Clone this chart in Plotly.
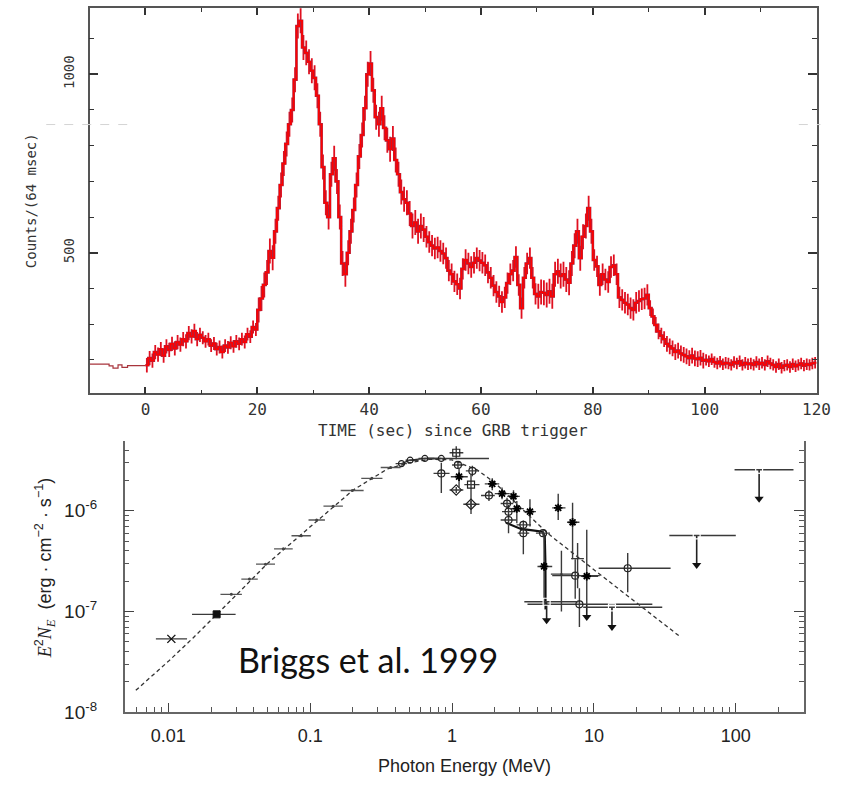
import plotly.graph_objects as go

# ================= TOP PANEL: GRB light curve =================
pre_edges = [-10, -6.5, -5.8, -4.9, -4.2, -3.2, 0]
pre_counts = [188, 183, 177, 186, 179, 184]

lc_dt = 0.5  # s per bin (bins start at t = 0)
lc_counts = [
    # 0 - 10 s
    185, 205, 198, 222, 215, 230, 212, 238, 228, 245, 232, 250, 243, 258, 252, 275, 266, 281, 258, 270,
    # 10 - 20 s
    262, 252, 258, 240, 246, 230, 236, 222, 240, 235, 248, 238, 252, 245, 258, 250, 272, 265, 292, 285,
    # 20 - 30 s
    340, 372, 410, 445, 505, 486, 560, 625, 690, 750, 805, 860, 900, 985, 1135, 1150, 1075, 1060, 1035, 1010,
    # 30 - 40 s
    990, 940, 860, 740, 640, 600, 720, 765, 700, 600, 470, 440, 500, 560, 620, 690, 770, 830, 905, 1000,
    # 40 - 50 s
    1030, 955, 880, 860, 905, 850, 815, 790, 820, 760, 720, 670, 650, 640, 610, 575, 585, 560, 575, 565,
    # 50 - 60 s
    545, 530, 520, 512, 515, 505, 498, 485, 450, 440, 420, 412, 400, 455, 480, 470, 460, 472, 485, 478,
    # 60 - 70 s
    472, 465, 445, 430, 408, 390, 378, 362, 375, 415, 440, 450, 488, 410, 345, 430, 470, 485, 430, 385,
    # 70 - 80 s
    378, 390, 388, 382, 392, 378, 440, 448, 435, 440, 425, 416, 470, 520, 560, 485, 545, 575, 625, 560,
    # 80 - 90 s
    480, 462, 410, 440, 425, 418, 460, 465, 440, 375, 368, 360, 355, 345, 340, 360, 365, 370, 372, 382,
    # 90 - 100 s
    345, 322, 298, 280, 268, 258, 245, 238, 232, 222, 226, 218, 214, 210, 205, 212, 204, 202, 206, 198,
    # 100 - 110 s
    200, 196, 202, 194, 190, 195, 188, 192, 190, 186, 194, 190, 196, 186, 192, 188, 190, 186, 194, 188,
    # 110 - 120 s
    192, 186, 196, 190, 186, 180, 188, 178, 184, 186, 180, 188, 182, 186, 190, 184, 188, 186, 190, 192,
]
# half-width of the noisy band around the curve, per 10-s segment
lc_band_half = [20, 18, 35, 35, 35, 30, 30, 35, 30, 22, 16, 16]

# ================= BOTTOM PANEL: spectrum =================
rise_x = [0.0278, 0.0373, 0.0484, 0.0647, 0.0865, 0.111, 0.145, 0.198, 0.272, 0.369]
rise_xlo = [0.0233, 0.0327, 0.0415, 0.0556, 0.0738, 0.0973, 0.124, 0.164, 0.229, 0.314]
rise_xhi = [0.0330, 0.0427, 0.0565, 0.0753, 0.101, 0.127, 0.170, 0.238, 0.323, 0.434]
rise_y = [1.48e-7, 2.1e-7, 2.95e-7, 4.19e-7, 5.65e-7, 8.1e-7, 1.11e-6, 1.59e-6, 2.1e-6, 2.69e-6]

xm_x, xm_y, xm_xlo, xm_xhi = [0.0105], [5.35e-8], [0.00817], [0.01355]
fs_x, fs_y, fs_xlo, fs_xhi = [0.0219], [9.37e-8], [0.01469], [0.0298]

peak_x = [0.44, 0.506, 0.643, 0.84]
peak_y = [2.94e-6, 3.18e-6, 3.31e-6, 3.31e-6]
peak_xlo = [0.40, 0.47, 0.58, 0.68]
peak_xhi = [0.48, 0.58, 0.75, 1.82]

oc_x = [0.84, 1.1, 1.39, 1.82, 2.44, 2.5, 2.5, 3.18, 3.18, 4.38, 7.38, 17.3, 7.9]
oc_y = [2.35e-6, 2.85e-6, 2.49e-6, 1.42e-6, 1.18e-6, 9.8e-7, 8.1e-7, 7.25e-7, 6.0e-7, 6.0e-7, 2.27e-7, 2.69e-7, 1.18e-7]
oc_xlo = [0.74, 1.0, 1.25, 1.6, 2.2, 2.25, 2.2, 2.85, 2.9, 3.9, 5.08, 10.8, 3.4]
oc_xhi = [0.96, 1.2, 1.55, 2.0, 2.7, 2.8, 2.85, 3.6, 3.5, 4.9, 11.0, 34.7, 25.8]
oc_ylo = [1.5e-6, 2.6e-6, 2.2e-6, 1.25e-6, 1.05e-6, 8.5e-7, 6.0e-7, 6.5e-7, 3.7e-7, 5.5e-7, 1.34e-7, 1.55e-7, 7.0e-8]
oc_yhi = [3.0e-6, 3.1e-6, 2.8e-6, 1.6e-6, 1.35e-6, 1.15e-6, 9.0e-7, 8.0e-7, 6.7e-7, 6.5e-7, 3.3e-7, 3.8e-7, 1.7e-7]

sq_x = [1.07, 1.36]
sq_y = [3.77e-6, 1.82e-6]
sq_xlo = [0.96, 1.22]
sq_xhi = [1.2, 1.56]
sq_ylo = [3.24e-6, 9.3e-7]
sq_yhi = [4.36e-6, 2.32e-6]

dm_x = [1.07, 1.36]
dm_y = [1.61e-6, 1.16e-6]
dm_xlo = [0.96, 1.2]
dm_xhi = [1.2, 1.56]
dm_ylo = [1.5e-6, 1.08e-6]
dm_yhi = [1.72e-6, 1.25e-6]

st_x = [1.12, 1.92, 2.25, 2.71, 2.86, 3.54, 4.45, 5.6, 7.07, 8.9]
st_y = [2.18e-6, 1.85e-6, 1.48e-6, 1.39e-6, 1.05e-6, 9.8e-7, 2.8e-7, 1.07e-6, 7.69e-7, 2.24e-7]
st_xlo = [0.98, 1.7, 2.0, 2.45, 2.55, 3.2, 4.0, 5.08, 6.46, 8.07]
st_xhi = [1.29, 2.15, 2.55, 3.0, 3.2, 3.9, 5.08, 6.3, 7.9, 10.7]
st_ylo = [1.71e-6, 1.6e-6, 1.3e-6, 1.2e-6, 7.5e-7, 7.0e-7, 1.2e-7, 8.1e-7, 3.3e-7, 1.16e-7]
st_yhi = [2.68e-6, 2.1e-6, 1.7e-6, 1.6e-6, 1.25e-6, 1.3e-6, 6.0e-7, 1.48e-6, 1.2e-6, 6.5e-7]

pl_x = [5.9, 7.67]
pl_y = [2.35e-7, 3.35e-7]
pl_xlo = [4.97, 6.9]
pl_xhi = [7.07, 8.5]
pl_ylo = [1.0e-7, 1.7e-7]
pl_yhi = [4.0e-7, 4.8e-7]

ul_x = [4.64, 13.4, 53.0, 146.0]
ul_y = [1.25e-7, 1.10e-7, 5.7e-7, 2.55e-6]
ul_xlo = [3.23, 8.4, 34.0, 98.0]
ul_xhi = [7.78, 30.3, 100.0, 255.0]
ul_sym = ["square-open", "square-open", "circle-open", "circle-open"]

arrow_x = [4.64, 8.9, 13.4, 53.0, 146.0]
arrow_top = [1.25e-7, 1.16e-7, 1.10e-7, 5.7e-7, 2.55e-6]
arrow_tip = [8.2e-8, 8.8e-8, 7.0e-8, 2.9e-7, 1.32e-6]

dash_x = [0.0059, 0.01, 0.015, 0.022, 0.03, 0.05, 0.1, 0.2, 0.35, 0.5, 0.7, 1.0, 1.5, 2.0, 3.0, 4.7, 10.0, 20.0, 40.0]
dash_y = [1.65e-8, 3.2e-8, 5.5e-8, 9.3e-8, 1.45e-7, 3.0e-7, 7.0e-7, 1.6e-6, 2.6e-6, 3.0e-6, 3.25e-6, 3.2e-6, 2.55e-6, 1.9e-6, 1.1e-6, 6.0e-7, 2.6e-7, 1.22e-7, 5.7e-8]

solid_x = [2.4, 3.06, 3.7, 4.34, 4.5, 4.55, 4.56]
solid_y = [7.6e-7, 6.6e-7, 6.4e-7, 6.2e-7, 5.6e-7, 3.0e-7, 1.05e-7]

x2_ticks = [0.01, 0.1, 1, 10, 100]
x2_ticktext = ["0.01", "0.1", "1", "10", "100"]
y2_ticks = [1e-8, 1e-7, 1e-6]
y2_ticktext = ["10<sup>-8</sup>", "10<sup>-7</sup>", "10<sup>-6</sup>"]

# ---------------------------------------------------------------
fig = go.Figure()

# light curve (step histogram)
lc_t = [i * lc_dt for i in range(len(lc_counts))]
lc_edges = lc_t + [len(lc_counts) * lc_dt]
lc_vals = lc_counts + [lc_counts[-1]]
pre_vals = pre_counts + [pre_counts[-1]]
lc_spread = [lc_band_half[min(int(t // 10), len(lc_band_half) - 1)] for t in lc_t]

fig.add_trace(go.Scatter(x=pre_edges, y=pre_vals, mode="lines", line_shape="hv",
                         line=dict(color="#a8343c", width=1.2), xaxis="x", yaxis="y",
                         showlegend=False, hoverinfo="skip"))
# noisy band (vertical spread of each bin)
fig.add_trace(go.Scatter(x=[t + lc_dt / 2 for t in lc_t], y=lc_counts, mode="markers",
                         marker=dict(size=1, color="rgba(0,0,0,0)"),
                         error_y=dict(type="data", array=lc_spread, width=0,
                                      thickness=1.8, color="#e01020"),
                         xaxis="x", yaxis="y", showlegend=False, hoverinfo="skip"))
fig.add_trace(go.Scatter(x=lc_edges, y=lc_vals, mode="lines", line_shape="hv",
                         line=dict(color="#9a2a48", width=2.6), xaxis="x", yaxis="y",
                         showlegend=False, hoverinfo="skip"))
fig.add_trace(go.Scatter(x=lc_edges, y=lc_vals, mode="lines", line_shape="hv",
                         line=dict(color="#ff0000", width=1.7), xaxis="x", yaxis="y",
                         showlegend=False, hoverinfo="skip"))

EBC = "#3a3a3a"


def err_trace(x, y, xlo, xhi, ylo=None, yhi=None, symbol="circle-open", size=7,
              mcolor="#111", fill=None, lw=1.2, ecol=EBC, ethick=1.4):
    ex = dict(type="data", symmetric=False,
              array=[h - v for h, v in zip(xhi, x)],
              arrayminus=[v - l for v, l in zip(x, xlo)],
              width=0, thickness=ethick, color=ecol)
    tr = dict(x=x, y=y, mode="markers", xaxis="x2", yaxis="y2",
              showlegend=False, hoverinfo="skip", error_x=ex,
              marker=dict(symbol=symbol, size=size, color=fill if fill else mcolor,
                          line=dict(color=mcolor, width=lw)))
    if ylo is not None:
        tr["error_y"] = dict(type="data", symmetric=False,
                             array=[h - v for h, v in zip(yhi, y)],
                             arrayminus=[v - l for v, l in zip(y, ylo)],
                             width=0, thickness=ethick, color=ecol)
    return go.Scatter(**tr)


# model curves
fig.add_trace(go.Scatter(x=dash_x, y=dash_y, mode="lines", xaxis="x2", yaxis="y2",
                         line=dict(color="#333", width=1.3, dash="4px,3px"),
                         showlegend=False, hoverinfo="skip"))
fig.add_trace(go.Scatter(x=solid_x, y=solid_y, mode="lines", xaxis="x2", yaxis="y2",
                         line=dict(color="#111", width=2.2),
                         showlegend=False, hoverinfo="skip"))
fig.add_trace(go.Scatter(x=peak_x, y=peak_y, mode="lines", xaxis="x2", yaxis="y2",
                         line=dict(color="#222", width=1.4),
                         showlegend=False, hoverinfo="skip"))

# data points
fig.add_trace(err_trace(rise_x, rise_y, rise_xlo, rise_xhi, symbol="circle", size=3,
                        mcolor="#444", fill="#444", lw=0, ecol="#555", ethick=1.3))
fig.add_trace(err_trace(xm_x, xm_y, xm_xlo, xm_xhi, symbol="x-thin-open", size=8,
                        mcolor="#111", lw=1.4))
fig.add_trace(err_trace(fs_x, fs_y, fs_xlo, fs_xhi, symbol="square", size=7,
                        mcolor="#111", fill="#111", lw=1))
fig.add_trace(err_trace(peak_x, peak_y, peak_xlo, peak_xhi, symbol="circle-open", size=6,
                        mcolor="#222", lw=1.2))
fig.add_trace(err_trace(oc_x, oc_y, oc_xlo, oc_xhi, oc_ylo, oc_yhi, symbol="circle-open",
                        size=7, mcolor="#222", lw=1.2))
fig.add_trace(err_trace(sq_x, sq_y, sq_xlo, sq_xhi, sq_ylo, sq_yhi, symbol="square-open",
                        size=7, mcolor="#222", lw=1.2))
fig.add_trace(err_trace(dm_x, dm_y, dm_xlo, dm_xhi, dm_ylo, dm_yhi, symbol="diamond-open",
                        size=8, mcolor="#222", lw=1.2))
fig.add_trace(err_trace(st_x, st_y, st_xlo, st_xhi, st_ylo, st_yhi, symbol="asterisk-open",
                        size=7, mcolor="#000", lw=1.8))
fig.add_trace(err_trace(pl_x, pl_y, pl_xlo, pl_xhi, pl_ylo, pl_yhi, symbol="line-ew-open",
                        size=2, mcolor="#333", lw=1))

# upper limits: shafts + arrowheads
fig.add_trace(go.Scatter(
    x=arrow_x, y=arrow_top, mode="markers", xaxis="x2", yaxis="y2",
    marker=dict(size=1, color="rgba(0,0,0,0)"),
    error_y=dict(type="data", symmetric=False, array=[0] * len(arrow_x),
                 arrayminus=[t - b for t, b in zip(arrow_top, arrow_tip)],
                 width=0, thickness=1.6, color="#222"),
    showlegend=False, hoverinfo="skip"))
fig.add_trace(go.Scatter(x=arrow_x, y=arrow_tip, mode="markers", xaxis="x2", yaxis="y2",
                         marker=dict(symbol="triangle-down", size=8, color="#111"),
                         showlegend=False, hoverinfo="skip"))
for i in range(len(ul_x)):
    fig.add_trace(err_trace([ul_x[i]], [ul_y[i]], [ul_xlo[i]], [ul_xhi[i]],
                            symbol=ul_sym[i], size=7, mcolor="#222", fill="white", lw=1.2,
                            ethick=1.5))

# ---------------------------------------------------------------
TOPFONT = "DejaVu Sans Mono"
BOTFONT = "Liberation Sans, Arial, sans-serif"

x_minor_log = [m * d for d in [0.001, 0.01, 0.1, 1, 10, 100] for m in range(2, 10)]
y_minor_log = [m * d for d in [1e-9, 1e-8, 1e-7, 1e-6] for m in range(2, 10)]

fig.update_layout(
    width=863, height=790, margin=dict(l=0, r=0, t=0, b=0),
    paper_bgcolor="white", plot_bgcolor="white", showlegend=False,
    xaxis=dict(domain=[91 / 863, 830 / 863], anchor="y", range=[-10, 120],
               tickmode="linear", tick0=0, dtick=20, ticks="inside", ticklen=7,
               tickwidth=1.5, tickcolor="#333", mirror="ticks", showline=True,
               linecolor="#555", linewidth=1.5, showgrid=False, zeroline=False,
               tickfont=dict(family=TOPFONT, size=16, color="#333"),
               ticklabelstandoff=1,
               minor=dict(dtick=10, ticks="inside", ticklen=4, tickwidth=1.2,
                          tickcolor="#333", showgrid=False)),
    yaxis=dict(domain=[1 - 399 / 790, 1 - 8 / 790], anchor="x", range=[106, 1186],
               tickmode="linear", tick0=0, dtick=500, ticks="inside", ticklen=9,
               tickwidth=1.5, tickcolor="#333", mirror="ticks", showline=True,
               linecolor="#555", linewidth=1.5, showgrid=False, zeroline=False,
               tickangle=-90, tickfont=dict(family=TOPFONT, size=14, color="#333"),
               ticklabelstandoff=8,
               minor=dict(dtick=100, ticks="inside", ticklen=5, tickwidth=1.2,
                          tickcolor="#333", showgrid=False)),
    xaxis2=dict(domain=[126.7 / 863, 817.3 / 863], anchor="y2", type="log",
                range=[-2.308, 2.481], tickmode="array", tickvals=x2_ticks,
                ticktext=x2_ticktext, ticks="inside", ticklen=9, tickwidth=1.3,
                tickcolor="#444", showline=True, linecolor="#666", linewidth=1.6,
                mirror=False, showgrid=False, zeroline=False,
                tickfont=dict(family=BOTFONT, size=18, color="#222"),
                ticklabelstandoff=6,
                minor=dict(tickmode="array", tickvals=x_minor_log, ticks="inside",
                           ticklen=5, tickwidth=1.1, tickcolor="#555", showgrid=False)),
    yaxis2=dict(domain=[1 - 722.3 / 790, 1 - 447 / 790], anchor="x2", type="log",
                range=[-8, -5.305], tickmode="array", tickvals=y2_ticks,
                ticktext=y2_ticktext, ticks="inside", ticklen=10, tickwidth=1.3,
                tickcolor="#444", showline=True, linecolor="#666", linewidth=1.6,
                mirror="ticks", showgrid=False, zeroline=False,
                tickfont=dict(family=BOTFONT, size=19, color="#222"),
                ticklabelstandoff=22,
                minor=dict(tickmode="array", tickvals=y_minor_log, ticks="inside",
                           ticklen=5, tickwidth=1.1, tickcolor="#555", showgrid=False)),
)

annotations = [
    dict(text="TIME (sec) since GRB trigger", x=460.5 / 863, y=1 - 437 / 790,
         font=dict(family=TOPFONT, size=16, color="#333")),
    dict(text="Counts/(64 msec)", x=31 / 863, y=1 - 203.5 / 790, textangle=-90,
         font=dict(family=TOPFONT, size=14, color="#333")),
    dict(text="Photon Energy (MeV)", x=472 / 863, y=1 - 777 / 790,
         font=dict(family=BOTFONT, size=18, color="#222")),
    dict(text="<span style='font-family:Liberation Serif'><i>E</i></span><sup>2</sup>"
              "<span style='font-family:Liberation Serif'><i>N<sub>E</sub></i></span>"
              "  (erg · cm<sup>−2</sup> · s<sup>−1</sup>)",
         x=46 / 863, y=1 - 576 / 790, textangle=-90,
         font=dict(family=BOTFONT, size=18, color="#222")),
    dict(text="Briggs et al. 1999", x=240 / 863, y=1 - 669 / 790, xanchor="left",
         font=dict(family="Lato", size=34, color="#111")),
]
for a in annotations:
    a.setdefault("xanchor", "center")
    a.update(xref="paper", yref="paper", yanchor="middle", showarrow=False)
fig.update_layout(annotations=annotations)

# faint scan artefacts (dashed grey) near y=126 px in top panel
fig.add_shape(type="line", xref="paper", yref="paper", x0=47 / 863, x1=133 / 863,
              y0=1 - 126.3 / 790, y1=1 - 126.3 / 790,
              line=dict(color="#d4d4d4", width=1, dash="dash"))
fig.add_shape(type="line", xref="paper", yref="paper", x0=812 / 863, x1=834 / 863,
              y0=1 - 126.3 / 790, y1=1 - 126.3 / 790,
              line=dict(color="#d4d4d4", width=1, dash="dash"))

fig.write_html("out.html")
